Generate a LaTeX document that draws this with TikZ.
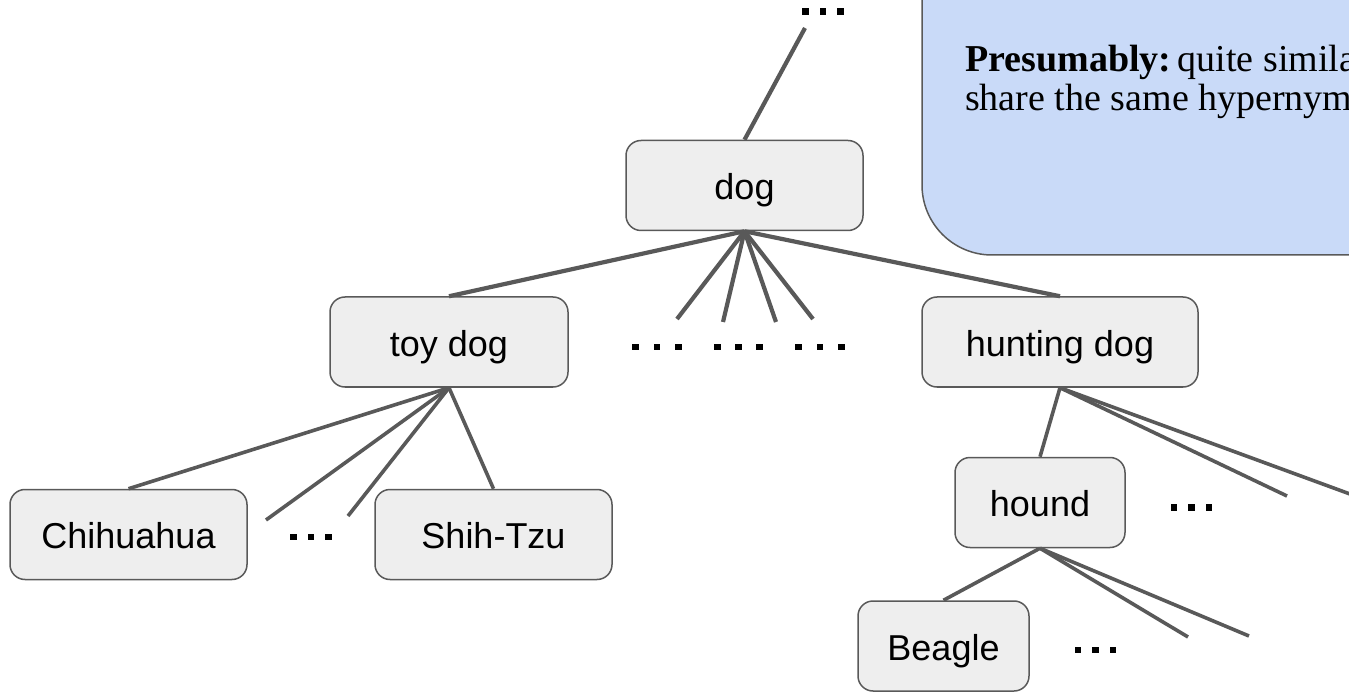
\documentclass[tikz,border=0pt]{standalone}
\usepackage{fontspec}
\newfontfamily\labelfont{Liberation Sans}
\newfontfamily\notefont{Liberation Serif}
\definecolor{edgegray}{HTML}{595959}
\definecolor{boxgray}{HTML}{EEEEEE}
\definecolor{noteblue}{HTML}{C9DAF8}
% three square dots centred at (#1,#2), #3 apart
\newcommand\sqdots[3]{%
  \foreach \k in {-1,0,1}
    \fill[black] ({#1+\k*#3-3.4},{#2-3.4}) rectangle +(6.8,6.8);}
\begin{document}
\begin{tikzpicture}[x=1pt,y=-1pt,
  term/.style={draw=edgegray, line width=1.5pt, fill=boxgray,
    rounded corners=15pt, minimum height=90pt, inner sep=0pt,
    text height=35pt, text depth=7pt,
    font=\labelfont\fontsize{36}{43}\selectfont, text=black},
  link/.style={draw=edgegray, line width=4.2pt},
  thinlink/.style={draw=edgegray, line width=3.6pt}]
\useasboundingbox (0,0) rectangle (1349,692);
\clip (0,0) rectangle (1349,692);

% note box in the top right corner
\draw[draw=edgegray, line width=1.5pt, fill=noteblue, rounded corners=70pt]
  (922,-120) rectangle (1480,255);
\node[anchor=base west, align=left, inner sep=0pt,
      font=\notefont\fontsize{38}{39}\selectfont] (note) at (965,111)
  {\textbf{Presumably:}\,quite similar\\share the same hypernym};

% tree nodes
\node[term, minimum width=237pt] (dog)     at (744.5,185.5) {dog};
\node[term, minimum width=238pt] (toy)     at (449,342)     {toy dog};
\node[term, minimum width=276pt] (hunting) at (1060,342)    {hunting dog};
\node[term, minimum width=237pt] (chi)     at (128.5,534.5) {Chihuahua};
\node[term, minimum width=237pt] (shih)    at (493.5,534.5) {Shih-Tzu};
\node[term, minimum width=170pt] (hound)   at (1040,502.5)  {hound};
\node[term, minimum width=171pt] (beagle)  at (943.5,646)   {Beagle};

% loose ends of the omitted branches
\coordinate (up)  at (805,28);
\coordinate (d1)  at (677,319);
\coordinate (d2)  at (723,322);
\coordinate (d3)  at (776,322);
\coordinate (d4)  at (813,319);
\coordinate (t1)  at (266,520);
\coordinate (t2)  at (348,516);
\coordinate (h1)  at (1287,496);
\coordinate (h2)  at (1380,505);
\coordinate (b1)  at (1188,637);
\coordinate (b2)  at (1249,636);

% connectors
\draw[link] (dog.north) -- (up);
\draw[link] (dog.south) -- (toy.north);
\draw[link] (dog.south) -- (hunting.north);
\foreach \e in {d1,d2,d3,d4} \draw[link] (dog.south) -- (\e);
\draw[thinlink] (toy.south) -- (chi.north);
\draw[thinlink] (toy.south) -- (shih.north);
\draw[thinlink] (toy.south) -- (t1);
\draw[thinlink] (toy.south) -- (t2);
\draw[thinlink] (hunting.south) -- (hound.north);
\draw[thinlink] (hunting.south) -- (h1);
\draw[thinlink] (hunting.south) -- (h2);
\draw[thinlink] (hound.south) -- (beagle.north);
\draw[thinlink] (hound.south) -- (b1);
\draw[thinlink] (hound.south) -- (b2);

% ellipsis marks
\sqdots{823}{11.5}{17.6}
\sqdots{657}{347}{21.2}
\sqdots{738.5}{347}{21.2}
\sqdots{820}{347}{21.2}
\sqdots{311}{537}{17.5}
\sqdots{1191.5}{507.5}{17.5}
\sqdots{1095.5}{650}{17.5}
\end{tikzpicture}
\end{document}
